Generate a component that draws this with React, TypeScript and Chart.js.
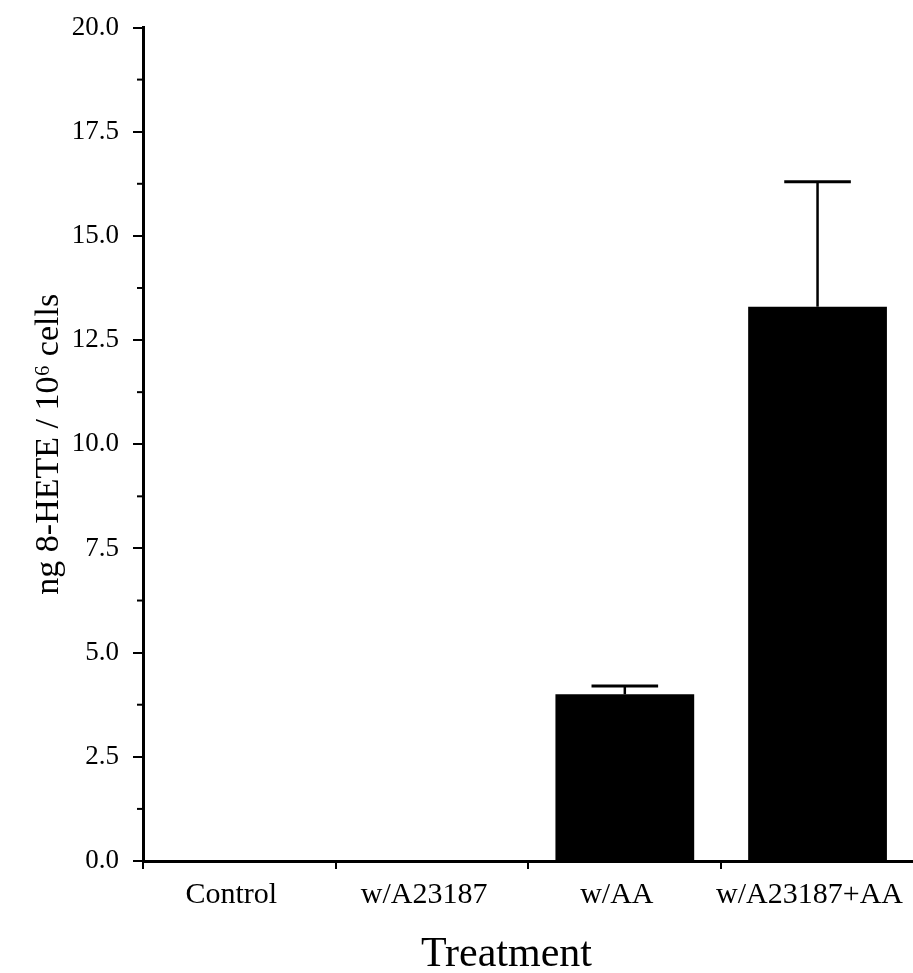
import React, { useEffect, useRef } from "react";
import { Chart, registerables } from "chart.js";

Chart.register(...registerables);

const categories = ["Control", "w/A23187", "w/AA", "w/A23187+AA"];
const means = [0, 0, 4.0, 13.3];
const errors = [0, 0, 0.2, 3.0];
const yTickValues = [0, 2.5, 5, 7.5, 10, 12.5, 15, 17.5, 20];
const yTitle = "ng 8-HETE / 10\u2076 cells";
const xTitle = "Treatment";

const FONT = "'Liberation Serif', 'Times New Roman', serif";

const errorBarPlugin = {
  id: "errorBars",
  afterDatasetsDraw(chart: any) {
    const meta = chart.getDatasetMeta(0);
    const y = chart.scales.y;
    const ctx = chart.ctx;
    ctx.save();
    ctx.strokeStyle = "#000";
    meta.data.forEach((bar: any, i: number) => {
      const err = errors[i];
      if (!err) return;
      const x = bar.x;
      const yBase = y.getPixelForValue(means[i]);
      const yTop = y.getPixelForValue(means[i] + err);
      const half = bar.width * 0.24;
      ctx.lineWidth = 2.5;
      ctx.beginPath();
      ctx.moveTo(x, yBase);
      ctx.lineTo(x, yTop);
      ctx.stroke();
      ctx.lineWidth = 3;
      ctx.beginPath();
      ctx.moveTo(x - half, yTop);
      ctx.lineTo(x + half, yTop);
      ctx.stroke();
    });
    ctx.restore();
  },
};

const minorTickPlugin = {
  id: "minorTicks",
  afterDraw(chart: any) {
    const y = chart.scales.y;
    const ctx = chart.ctx;
    const ticks = y.ticks;
    const left = chart.chartArea.left;
    ctx.save();
    ctx.strokeStyle = "#000";
    ctx.lineWidth = 2;
    for (let i = 0; i < ticks.length - 1; i++) {
      const mid = (ticks[i].value + ticks[i + 1].value) / 2;
      const py = y.getPixelForValue(mid);
      ctx.beginPath();
      ctx.moveTo(left - 6, py);
      ctx.lineTo(left, py);
      ctx.stroke();
    }
    ctx.restore();
  },
};

const xTitlePlugin = {
  id: "xTitle",
  afterDraw(chart: any) {
    const { ctx, chartArea } = chart;
    ctx.save();
    ctx.fillStyle = "#000";
    ctx.font = `42px ${FONT}`;
    ctx.textAlign = "center";
    ctx.textBaseline = "middle";
    const cx = (chartArea.left + chartArea.right) / 2 - 22;
    ctx.fillText(xTitle, cx, chart.height - 18);
    ctx.restore();
  },
};

export default function App() {
  const canvasRef = useRef<HTMLCanvasElement | null>(null);

  useEffect(() => {
    document.body.style.margin = "0";
    const canvas = canvasRef.current;
    if (!canvas) return;
    const chart = new Chart(canvas, {
      type: "bar",
      data: {
        labels: categories,
        datasets: [
          {
            data: means,
            backgroundColor: "#000",
            borderWidth: 0,
            barPercentage: 0.72,
            categoryPercentage: 1,
          },
        ],
      },
      options: {
        responsive: false,
        animation: false,
        devicePixelRatio: 1,
        layout: { padding: { top: 24, right: 0, left: 0, bottom: 0 } },
        plugins: {
          legend: { display: false },
          tooltip: { enabled: false },
          title: { display: false },
        },
        scales: {
          x: {
            type: "category",
            grid: {
              offset: true,
              drawOnChartArea: false,
              drawTicks: true,
              tickLength: 8,
              color: "#000",
              lineWidth: 2,
            },
            border: { display: true, color: "#000", width: 3 },
            ticks: {
              color: "#000",
              font: { family: FONT, size: 30 },
              padding: 8,
              labelOffset: -8,
              maxRotation: 0,
              autoSkip: false,
            },
            title: { display: false },
            afterFit(scale: any) {
              scale.height = 112;
            },
          },
          y: {
            type: "linear",
            min: 0,
            max: 20,
            afterBuildTicks(scale: any) {
              scale.ticks = yTickValues.map((v) => ({ value: v }));
            },
            grid: {
              drawOnChartArea: false,
              drawTicks: true,
              tickLength: 10,
              color: "#000",
              lineWidth: 2,
            },
            border: { display: true, color: "#000", width: 3 },
            ticks: {
              color: "#000",
              font: { family: FONT, size: 27, lineHeight: 1 },
              padding: 14,
              callback: (v: any) => Number(v).toFixed(1),
            },
            title: {
              display: true,
              text: yTitle,
              color: "#000",
              font: { family: FONT, size: 34, lineHeight: 1 },
              padding: { top: 32, bottom: 0 },
            },
            afterFit(scale: any) {
              scale.width = 143;
            },
          },
        },
      },
      plugins: [errorBarPlugin, minorTickPlugin, xTitlePlugin],
    });
    return () => chart.destroy();
  }, []);

  return (
    <div style={{ width: 913, height: 973, overflow: "hidden", background: "#fff" }}>
      <canvas ref={canvasRef} width={919} height={973} />
    </div>
  );
}
